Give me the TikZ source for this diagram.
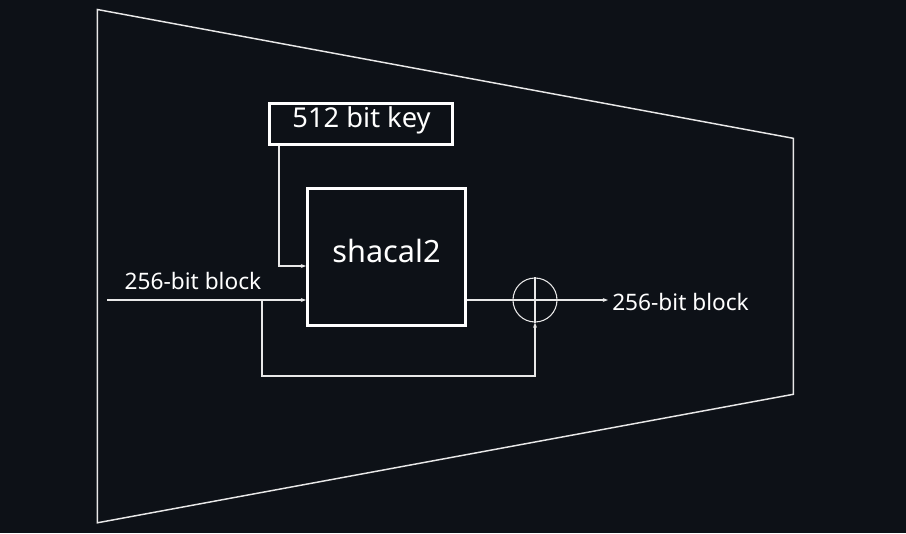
\documentclass[tikz,border=0pt]{standalone}
\usepackage{fontspec}
\setmainfont{Noto Sans}
\usetikzlibrary{arrows.meta}
\definecolor{bg}{HTML}{0D1117}
\definecolor{fg}{HTML}{FFFFFF}
\definecolor{thin}{HTML}{E8E8E8}
\begin{document}
\begin{tikzpicture}[x=0.75pt,y=-0.75pt,
  conn/.style={draw=thin, line width=0.8pt},
  arr/.style={conn, -{Stealth[length=4pt,width=3pt]}},
  bigbox/.style={draw=fg, line width=2.2pt, rectangle, inner sep=0pt},
  txt/.style={text=fg, inner sep=0pt, anchor=base},
  frame/.style={draw=thin, line width=1.1pt, line join=miter}]
\fill[bg] (0,0) rectangle (906,533);
\useasboundingbox (0,0) rectangle (906,533);
% outer trapezoid
\draw[frame] (97.3,9.5) -- (793.3,138.3) -- (793.3,394.3) -- (97.3,522.8) -- cycle;
% boxes
\node[bigbox, minimum width=183*0.75pt, minimum height=41*0.75pt] (key) at (361,124) {};
\node[txt, font=\fontsize{20.5}{24}\selectfont] (keytxt) at (361.5,127.5) {512 bit key};
\node[bigbox, minimum width=158*0.75pt, minimum height=137*0.75pt] (sh) at (386.5,257) {};
\node[txt, font=\fontsize{23}{27}\selectfont] (shtxt) at (386.5,262) {shacal2};
% xor
\node[circle, draw=thin, line width=0.8pt, minimum size=44*0.75pt, inner sep=0pt] (xor) at (535,300) {};
\draw[conn] (xor.west) -- (xor.east) (xor.north) -- (xor.south);
% labels
\node[txt, font=\fontsize{17}{20}\selectfont] (intxt) at (193,289) {256-bit block};
\node[text=fg, inner sep=3pt, anchor=base west, font=\fontsize{17}{20}\selectfont] (outtxt) at (608,310) {256-bit block};
% connectors
\coordinate (in) at (107,300);
\coordinate (br) at (262,300);
\coordinate (brlow) at (262,376);
\coordinate (keyout) at (279,146);
\draw[arr] (keyout) |- (sh.west |- 0,266);
\draw[arr] (in) -- (in -| sh.west);
\draw[arr] (br) -- (brlow) -| (xor.south);
\draw[conn] (sh.east |- xor) -- (xor.west);
\draw[arr] (xor.east) -- (xor -| outtxt.west);
\end{tikzpicture}
\end{document}
